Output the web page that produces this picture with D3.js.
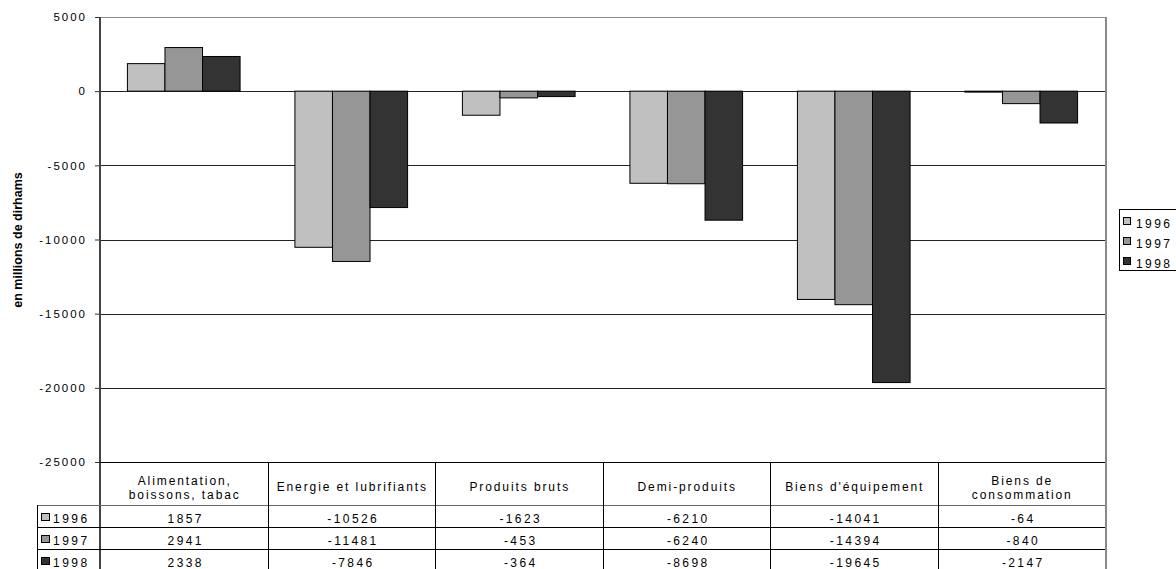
<!DOCTYPE html>
<html>
<head>
<meta charset="utf-8">
<script src="https://cdn.jsdelivr.net/npm/d3@7"></script>
<style>
  html, body { margin: 0; padding: 0; background: #fff; }
  svg { display: block; font-family: Arial, "Liberation Sans", sans-serif; }
</style>
</head>
<body>
<svg id="chart" width="1176" height="569"></svg>
<script>
// Balance commerciale par groupe de produits (en millions de dirhams)
const categories = [
  ["Alimentation,", "boissons, tabac"],
  ["Energie et lubrifiants"],
  ["Produits bruts"],
  ["Demi-produits"],
  ["Biens d'équipement"],
  ["Biens de", "consommation"]
];
const years = ["1996", "1997", "1998"];
const values1996 = [1857, -10526, -1623, -6210, -14041, -64];
const values1997 = [2941, -11481, -453, -6240, -14394, -840];
const values1998 = [2338, -7846, -364, -8698, -19645, -2147];
const yTicks = [5000, 0, -5000, -10000, -15000, -20000, -25000];
const colors = ["#c0c0c0", "#969696", "#333333"];
const yLabel = "en millions de dirhams";

const series = [values1996, values1997, values1998];

const svg = d3.select("#chart");
const plotLeft = 100, plotRight = 1105, plotTop = 17, plotBottom = 462;
const rowTop = 505, rowH = 22;

const x = d3.scaleBand().domain(d3.range(categories.length)).range([plotLeft, plotRight]);
const xs = d3.scaleBand().domain(d3.range(years.length))
  .range([0, x.bandwidth()]).paddingInner(0).paddingOuter(0.73);
const y = d3.scaleLinear().domain([-25000, 5000]).range([plotBottom, plotTop]);

// horizontal gridlines
svg.append("g").selectAll("line").data(yTicks.filter(d => d > -25000)).join("line")
  .attr("x1", plotLeft).attr("x2", plotRight)
  .attr("y1", d => Math.round(y(d)) + 0.5).attr("y2", d => Math.round(y(d)) + 0.5)
  .attr("stroke", d => d === 5000 ? "#8a8a8a" : "#222").attr("stroke-width", 1);

// bars
const groups = svg.append("g").selectAll("g").data(categories).join("g")
  .attr("transform", (d, i) => `translate(${x(i)},0)`);
groups.selectAll("rect").data((d, i) => series.map((s, k) => ({ k, v: s[i] }))).join("rect")
  .attr("x", d => xs(d.k))
  .attr("width", xs.bandwidth())
  .attr("y", d => y(Math.max(0, d.v)))
  .attr("height", d => Math.abs(y(d.v) - y(0)))
  .attr("fill", d => colors[d.k])
  .attr("stroke", "#000").attr("stroke-width", 1);

// right border of the plot area
svg.append("line").attr("x1", plotRight + 1).attr("x2", plotRight + 1).attr("y1", plotTop).attr("y2", 569)
  .attr("stroke", "#8a8a8a").attr("stroke-width", 2);

// y axis
const yAxis = svg.append("g").attr("transform", `translate(${plotLeft},0)`)
  .call(d3.axisLeft(y).tickValues(yTicks).tickSize(5).tickPadding(8).tickFormat(d => String(d)));
yAxis.select(".domain").remove();
yAxis.selectAll(".tick line").attr("stroke", "#333");
yAxis.selectAll(".tick text").attr("font-size", 11.5).attr("letter-spacing", "2px")
  .attr("fill", "#000").attr("font-family", "Arial, 'Liberation Sans', sans-serif");
svg.append("line").attr("x1", plotLeft).attr("x2", plotLeft).attr("y1", plotTop).attr("y2", 569)
  .attr("stroke", "#444").attr("stroke-width", 2);

// axis title
svg.append("text")
  .attr("transform", `translate(22,240) rotate(-90)`)
  .attr("text-anchor", "middle").attr("font-size", 12.5).attr("font-weight", "bold")
  .text(yLabel);

// data table
const table = svg.append("g");
table.append("line").attr("x1", plotLeft).attr("x2", plotRight)
  .attr("y1", plotBottom + 0.5).attr("y2", plotBottom + 0.5).attr("stroke", "#000");
[0, 1, 2].forEach(r => {
  table.append("line").attr("x1", 37).attr("x2", plotRight)
    .attr("y1", rowTop + r * rowH + 0.5).attr("y2", rowTop + r * rowH + 0.5)
    .attr("stroke", r === 0 ? "#666" : "#000");
});
table.append("line").attr("x1", 37.5).attr("x2", 37.5).attr("y1", rowTop).attr("y2", 569).attr("stroke", "#000");
table.selectAll(".vline").data(d3.range(1, categories.length)).join("line")
  .attr("x1", i => Math.round(x(i)) + 0.5).attr("x2", i => Math.round(x(i)) + 0.5)
  .attr("y1", plotBottom).attr("y2", 569).attr("stroke", "#000");

// header labels
table.selectAll(".hdr").data(categories).join("text")
  .attr("text-anchor", "middle").attr("font-size", 12).attr("letter-spacing", "1.9px")
  .attr("x", (d, i) => x(i) + x.bandwidth() / 2 + 1)
  .each(function (d) {
    const t = d3.select(this);
    const y0 = d.length === 1 ? 491 : 485;
    d.forEach((line, j) => t.append("tspan").attr("x", t.attr("x")).attr("y", y0 + j * 14).text(line));
  });

// value rows
series.forEach((s, k) => {
  const cy = rowTop + k * rowH;
  table.append("rect").attr("x", 41.5).attr("y", cy + 8.5).attr("width", 8).attr("height", 7)
    .attr("fill", colors[k]).attr("stroke", "#000");
  table.append("text").attr("x", 53).attr("y", cy + 18).attr("font-size", 12)
    .attr("letter-spacing", "2.5px").text(years[k]);
  table.selectAll(null).data(s).join("text")
    .attr("text-anchor", "middle").attr("font-size", 12).attr("letter-spacing", "2.4px")
    .attr("x", (d, i) => x(i) + x.bandwidth() / 2 + 2)
    .attr("y", cy + 18).text(d => d);
});

// legend
const legend = svg.append("g");
legend.append("rect").attr("x", 1119.5).attr("y", 209.5).attr("width", 70).attr("height", 61)
  .attr("fill", "#fff").attr("stroke", "#000");
years.forEach((yr, k) => {
  const cy = 222 + k * 20;
  legend.append("rect").attr("x", 1123.5).attr("y", cy - 4.5).attr("width", 7).attr("height", 7)
    .attr("fill", colors[k]).attr("stroke", "#000");
  legend.append("text").attr("x", 1136).attr("y", cy + 6).attr("font-size", 12)
    .attr("letter-spacing", "2.4px").text(yr);
});
</script>
</body>
</html>
